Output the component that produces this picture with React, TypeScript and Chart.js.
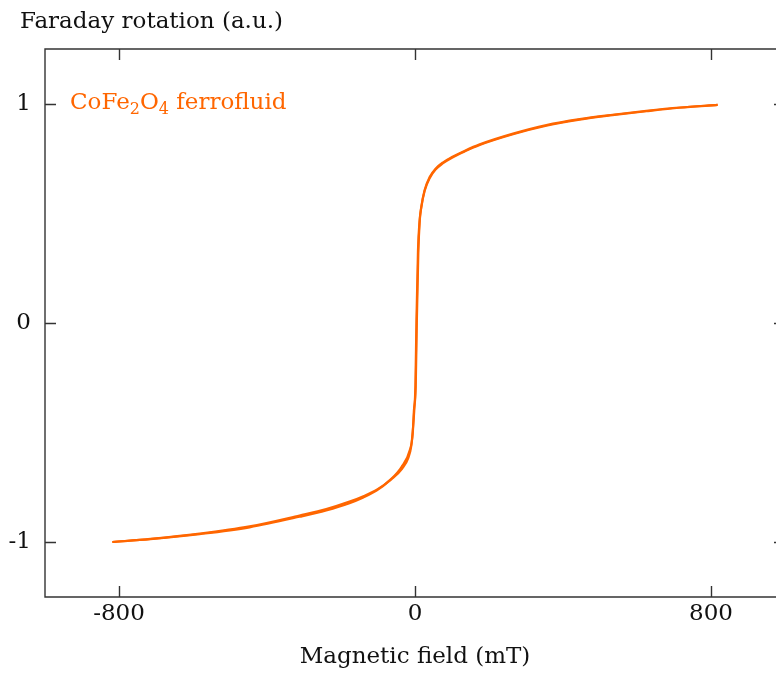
import { useEffect, useRef } from "react";
import { Chart, registerables } from "chart.js";

Chart.register(...registerables);

// Ascending-field branch (mT, a.u.)
const fieldUp = [-818, -715, -582, -447, -312, -240, -177, -141, -104, -68, -37, -14, -6, -3, 2, 5, 9, 13, 17, 26, 40, 55, 75, 100, 135, 175, 265, 355, 445, 534, 625, 715, 818];
const magUp = [-0.999, -0.986, -0.963, -0.932, -0.884, -0.855, -0.822, -0.797, -0.765, -0.717, -0.658, -0.58, -0.502, -0.4, -0.29, 0.01, 0.32, 0.47, 0.53, 0.607, 0.667, 0.703, 0.732, 0.757, 0.786, 0.815, 0.864, 0.903, 0.93, 0.95, 0.968, 0.983, 0.995];

// Descending-field branch (listed in ascending field order)
const fieldDown = [-818, -715, -582, -447, -312, -240, -177, -138, -100, -64, -35, -18, -10, -6, -2, 1, 4, 8, 12, 17, 26, 40, 55, 75, 100, 135, 175, 265, 355, 445, 534, 625, 715, 818];
const magDown = [-0.999, -0.985, -0.961, -0.928, -0.878, -0.849, -0.815, -0.789, -0.757, -0.713, -0.665, -0.615, -0.56, -0.49, -0.4, -0.29, 0.02, 0.33, 0.46, 0.527, 0.602, 0.662, 0.699, 0.728, 0.754, 0.783, 0.812, 0.861, 0.9, 0.928, 0.948, 0.966, 0.982, 0.995];

const xTickValues = [-800, 0, 800];
const yTickValues = [-1, 0, 1];
const xLimits = [-1000, 1000];
const yLimits = [-1.25, 1.25];

const yAxisTitle = "Faraday rotation (a.u.)";
const xAxisTitle = "Magnetic field (mT)";
// [text, isSubscript]
const seriesLabel: [string, boolean][] = [["CoFe", false], ["2", true], ["O", false], ["4", true], [" ferrofluid", false]];

const ORANGE = "#ff6600";
const FONT = "'DejaVu Serif', serif";

const overlayPlugin = {
  id: "overlay",
  afterDraw(chart: any) {
    const { ctx, chartArea: a, scales } = chart;
    const xs = scales.x;
    const ys = scales.y;
    ctx.save();
    // frame
    ctx.strokeStyle = "#333";
    ctx.lineWidth = 1.4;
    ctx.beginPath();
    ctx.rect(a.left, a.top, a.right - a.left, a.bottom - a.top);
    const len = 11;
    xs.ticks.forEach((t: any) => {
      const px = Math.round(xs.getPixelForValue(t.value)) + 0.5;
      ctx.moveTo(px, a.bottom);
      ctx.lineTo(px, a.bottom - len);
      ctx.moveTo(px, a.top);
      ctx.lineTo(px, a.top + len);
    });
    ys.ticks.forEach((t: any) => {
      const py = Math.round(ys.getPixelForValue(t.value)) + 0.5;
      ctx.moveTo(a.left, py);
      ctx.lineTo(a.left + len, py);
      ctx.moveTo(a.right, py);
      ctx.lineTo(a.right - len, py);
    });
    ctx.stroke();

    // y-axis title (top-left)
    ctx.fillStyle = "#111";
    ctx.font = `23px ${FONT}`;
    ctx.textAlign = "left";
    ctx.textBaseline = "alphabetic";
    ctx.fillText(yAxisTitle, 20, 28);

    // series label with subscripts
    let x = a.left + 25;
    const base = a.top + 60;
    ctx.fillStyle = ORANGE;
    seriesLabel.forEach(([txt, sub]) => {
      ctx.font = sub ? `16px ${FONT}` : `23px ${FONT}`;
      ctx.fillText(txt, x, sub ? base + 5 : base);
      x += ctx.measureText(txt).width;
    });
    ctx.restore();
  },
};

export default function App() {
  const ref = useRef<HTMLCanvasElement>(null);
  useEffect(() => {
    if (!ref.current) return;
    const chart = new Chart(ref.current, {
      type: "scatter",
      data: {
        datasets: [
          {
            data: fieldUp.map((h, i) => ({ x: h, y: magUp[i] })),
            showLine: true,
            borderColor: ORANGE,
            borderWidth: 2.2,
            pointRadius: 0,
            cubicInterpolationMode: "monotone",
          },
          {
            data: fieldDown.map((h, i) => ({ x: h, y: magDown[i] })),
            showLine: true,
            borderColor: ORANGE,
            borderWidth: 2.2,
            pointRadius: 0,
            cubicInterpolationMode: "monotone",
          },
        ],
      },
      options: {
        animation: false,
        responsive: false,
        layout: { padding: { left: 0, top: 49, right: 15, bottom: 0 } },
        plugins: { legend: { display: false }, tooltip: { enabled: false } },
        scales: {
          x: {
            type: "linear",
            min: xLimits[0],
            max: xLimits[1],
            grid: { display: false },
            border: { display: false },
            afterBuildTicks: (s: any) => {
              s.ticks = xTickValues.map((v) => ({ value: v }));
            },
            afterFit: (s: any) => {
              s.height = 81;
            },
            ticks: { color: "#111", font: { family: FONT, size: 23, lineHeight: 1.0 }, padding: -2, maxRotation: 0 },
            title: {
              display: true,
              text: xAxisTitle,
              color: "#111",
              font: { family: FONT, size: 23 },
              padding: { top: 0, bottom: 7 },
            },
          },
          y: {
            type: "linear",
            min: yLimits[0],
            max: yLimits[1],
            grid: { display: false },
            border: { display: false },
            afterBuildTicks: (s: any) => {
              s.ticks = yTickValues.map((v) => ({ value: v }));
            },
            afterFit: (s: any) => {
              s.width = 45;
            },
            ticks: { color: "#111", font: { family: FONT, size: 23 }, padding: 6 },
          },
        },
      },
      plugins: [overlayPlugin],
    });
    return () => chart.destroy();
  }, []);

  return (
    <div style={{ position: "absolute", left: 0, top: 0, width: 776, height: 678, overflow: "hidden", background: "#fff" }}>
      <canvas ref={ref} width={800} height={678} style={{ display: "block" }} />
    </div>
  );
}
